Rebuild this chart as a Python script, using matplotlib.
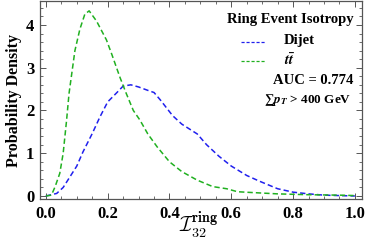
import matplotlib
matplotlib.use("Agg")
import matplotlib.pyplot as plt
from matplotlib.ticker import MultipleLocator

plt.rcParams['font.family'] = ['Liberation Serif', 'DejaVu Serif']
plt.rcParams['font.weight'] = 'bold'
plt.rcParams['mathtext.fontset'] = 'stix'

dijet_x = [0, 0.035, 0.056, 0.078, 0.1, 0.12, 0.15, 0.175, 0.2, 0.23, 0.25, 0.275, 0.3, 0.33,
           0.35, 0.37, 0.41, 0.44, 0.49, 0.52, 0.56, 0.6, 0.65, 0.69, 0.75, 0.8, 0.85, 0.9, 0.95, 1.0]
dijet_y = [0, 0.06, 0.2, 0.45, 0.7, 1.03, 1.46, 1.85, 2.2, 2.42, 2.57, 2.6, 2.55, 2.47,
           2.42, 2.25, 1.88, 1.68, 1.45, 1.2, 0.93, 0.7, 0.48, 0.35, 0.17, 0.09, 0.05, 0.02, 0.01, 0.0]

ttbar_x = [0, 0.018, 0.03, 0.045, 0.056, 0.067, 0.075, 0.094, 0.11, 0.126, 0.14, 0.164, 0.196,
           0.213, 0.24, 0.26, 0.283, 0.304, 0.33, 0.36, 0.4, 0.44, 0.49, 0.54, 0.585, 0.62, 0.67,
           0.75, 0.85, 0.95, 1.0]
ttbar_y = [0, 0.02, 0.22, 0.53, 1.0, 1.77, 2.4, 3.4, 3.9, 4.25, 4.33, 4.09, 3.65,
           3.32, 2.77, 2.4, 2.0, 1.78, 1.45, 1.15, 0.8, 0.57, 0.37, 0.22, 0.17, 0.1, 0.08,
           0.05, 0.03, 0.02, 0.01]

fig = plt.figure(figsize=(3.74, 2.43), dpi=100)
ax = fig.add_axes([40/374, 1-199/243, 322/374, 198/243])

blue = '#2020ee'
green = '#20b020'
ax.plot(dijet_x, dijet_y, color=blue, lw=1.1, dashes=(3.5, 2))
ax.plot(ttbar_x, ttbar_y, color=green, lw=1.1, dashes=(3.5, 2))

ax.set_xlim(-0.019, 1.023)
ax.set_ylim(-0.07, 4.56)
ax.xaxis.set_minor_locator(MultipleLocator(0.05))
ax.yaxis.set_minor_locator(MultipleLocator(0.2))
ax.set_xticks([0, 0.2, 0.4, 0.6, 0.8, 1.0])
ax.set_xticklabels(['0.0', '0.2', '0.4', '0.6', '0.8', '1.0'])
ax.set_yticks([0, 1, 2, 3, 4])
ax.set_yticklabels(['0', '1', '2', '3', '4'])
ax.tick_params(which='both', direction='in', top=True, right=True, color='#555555',
               labelsize=12)
ax.tick_params(which='major', length=4, width=0.7)
ax.tick_params(which='minor', length=2, width=0.6)
ax.tick_params(axis='x', pad=5)
ax.tick_params(axis='y', pad=4)
for s in ax.spines.values():
    s.set_color('#555555')
    s.set_linewidth(0.9)

ax.set_ylabel('Probability Density', fontsize=11.5, fontweight='bold', labelpad=3)
fig.text(198/374, 1-225/243, r'$\mathcal{I}^{\mathbf{ring}}_{\mathbf{32}}$', fontsize=14.5,
         ha='center', va='center', math_fontfamily='cm')

def fx(px):
    return (px - 40) / 322
def fy(py):
    return (199 - py) / 198

ax.text(fx(354), fy(19), 'Ring Event Isotropy', transform=ax.transAxes, ha='right', va='center',
        fontsize=10.5, fontweight='bold')
ax.plot([fx(241), fx(266)], [fy(41.5), fy(41.5)], transform=ax.transAxes, color=blue, lw=0.9,
        dashes=(2.5, 1.5))
ax.text(fx(284), fy(40), 'Dijet', transform=ax.transAxes, ha='left', va='center',
        fontsize=10.5, fontweight='bold')
ax.plot([fx(241), fx(266)], [fy(61), fy(61)], transform=ax.transAxes, color=green, lw=0.9,
        dashes=(2.5, 1.5))
ax.text(fx(284), fy(60), r'$t\bar{t}$', transform=ax.transAxes, ha='left', va='center',
        fontsize=10.5)
ax.text(fx(353), fy(80.5), 'AUC = 0.774', transform=ax.transAxes, ha='right', va='center',
        fontsize=10.5, fontweight='bold')
ax.text(fx(351), fy(100), '\u2211$p_T$ > 400 GeV', transform=ax.transAxes, ha='right', va='center',
        fontsize=9.5, fontweight='bold')

fig.savefig('out.png', dpi=100)
